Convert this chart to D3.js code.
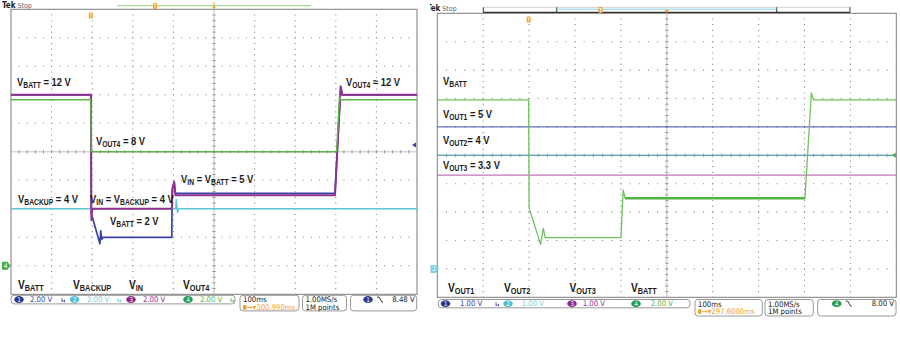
<!DOCTYPE html>
<html><head><meta charset="utf-8">
<script src="https://cdn.jsdelivr.net/npm/d3@7"></script>
<style>
html,body{margin:0;padding:0;background:#fff;}
svg{display:block;}
.lbl{font-family:"Liberation Sans",Arial,sans-serif;font-weight:bold;fill:#1c1c1c;}
.st{font-family:"DejaVu Sans Condensed","DejaVu Sans",sans-serif;font-size:7.7px;}
</style></head><body>
<svg id="c" width="900" height="345"></svg>
<script>
// ---------------- data ----------------
// Time is in ms relative to screen centre (100 ms/div, 10 divisions).
const timeDomain = [-500, 500];

// Left capture, every channel at 2 V/div
const leftVoltsPerDiv = [2, 2, 2, 2];
const leftVbatt = [[-500,12],[-303,12],[-302.5,3.7],[-281,1.55],[-279,2.45],[-276.5,1.85],[-274,2.0],
  [-104,2.0],[-103,5.3],[-98,5.8],[-95,5.08],[298,5.08],[312,12.5],[316,12],[500,12]];
const leftVbackup = [[-500,4],[-94,4],[-93,4.65],[-90,3.75],[-87,4],[500,4]];
const leftVin = [[-500,12],[-303,12],[-302,3.2],[-300,4],[-104,4],[-102,5.5],[-98,5.9],[-95,4.95],
  [298,4.95],[312,12.6],[316,12],[500,12]];
const leftVout4 = [[-500,11.65],[-303.5,11.65],[-302.5,8],[-301,8.2],[-299,8],[302,8],[309,11.9],[311,11.65],[500,11.65]];
const leftTrigLevel = 8.48;

// Right capture: ch1-3 at 1 V/div, ch4 at 2 V/div
const rightVoltsPerDiv = [1, 1, 1, 2];
const rightVout1 = [[-500,5.0],[500,5.0]];
const rightVout2 = [[-500,4.0],[500,4.0]];
const rightVout3 = [[-500,3.3],[500,3.3]];
const rightVbatt = [[-500,11.9],[-301,11.9],[-300,4.3],[-275,1.73],[-269,2.86],[-265,2.2],[-100,2.2],
  [-95,5.55],[-91,4.98],[301,4.98],[315,12.4],[319.5,11.9],[500,11.9]];
const rightRipple = [-91, 301];     // span where the ch4 trace is thickened by ripple
const rightTrigLevel = 8.0;

// Text
const leftNotes = [
  [["V"],["BATT",1],[" = 12 V"]],
  [["V"],["OUT4",1],[" \u2248 12 V"]],
  [["V"],["OUT4",1],[" = 8 V"]],
  [["V"],["IN",1],[" = V"],["BATT",1],[" = 5 V"]],
  [["V"],["BACKUP",1],[" = 4 V"]],
  [["V"],["IN",1],[" = V"],["BACKUP",1],[" = 4 V"]],
  [["V"],["BATT",1],[" = 2 V"]]
];
const leftNames = [[["V"],["BATT",1]],[["V"],["BACKUP",1]],[["V"],["IN",1]],[["V"],["OUT4",1]]];
const rightNotes = [
  [["V"],["BATT",1]],
  [["V"],["OUT1",1],[" = 5 V"]],
  [["V"],["OUT2",1],["= 4 V"]],
  [["V"],["OUT3",1],[" = 3.3 V"]]
];
const rightNames = [[["V"],["OUT1",1]],[["V"],["OUT2",1]],[["V"],["OUT3",1]],[["V"],["BATT",1]]];
const leftStatus = {timebase:"100ms", pos:"300.990ms", rate:"1.00MS/s", points:"1M points", src:"1", level:"8.48 V"};
const rightStatus = {timebase:"100ms", pos:"297.6000ms", rate:"1.00MS/s", points:"1M points", src:"4", level:"8.00 V"};

// ---------------- layout & style ----------------
const chColor = ["#3a44a6", "#5cc6d6", "#93308f", "#5cb548"];
const badgeColor = ["#2b3a8f", "#4fc0cf", "#8a2a88", "#1f9a4a"];
const orange = "#f4a12a";
const PA = {x0:11, x1:417, y0:9.3, y1:294.3};
const PB = {x0:437.3, x1:896.3, y0:13.3, y1:297.3};
const leftNotePos = [[17,86],[346,86],[96,145],[181,183],[18,202.5],[90,202.5],[110,225]];
const leftNamePos = [[18,288.5],[73,288.5],[129,288.5],[183,288.5]];
const rightNotePos = [[443,85],[443,117.5],[443,143.5],[443,168.5]];
const rightNamePos = [[448,291.5],[504,291.5],[569.5,291.5],[631,291.5]];
const narrow = 0.81;   // horizontal squeeze for the condensed annotation face

const svg = d3.select("#c");
svg.append("defs").append("clipPath").attr("id","clipB")
  .append("rect").attr("x",430).attr("y",0).attr("width",470).attr("height",345);

function scales(P, vpd) {
  const x = d3.scaleLinear().domain(timeDomain).range([P.x0, P.x1]);
  // ground reference sits one division above the bottom edge
  const ys = vpd.map(v => d3.scaleLinear().domain([-v, 9 * v]).range([P.y1, P.y0]));
  return {x, ys};
}

function graticule(g, P, x, y) {
  const dx = (P.x1 - P.x0) / 10, dy = (P.y1 - P.y0) / 10;
  const vt = d3.range(-400, 500, 100);
  const hv = y.domain()[1] - y.domain()[0];
  const hTicks = d3.range(1, 10).map(i => y.domain()[0] + i * hv / 10);
  const gg = g.append("g");
  vt.filter(t => t !== 0).forEach(t => {
    gg.append("line").attr("x1", x(t)).attr("x2", x(t)).attr("y1", P.y0).attr("y2", P.y1)
      .attr("stroke", "#8a8a8a").attr("stroke-width", 1.1)
      .attr("stroke-dasharray", `1.1 ${dy / 5 - 1.1}`).attr("stroke-dashoffset", -dy / 5 + 0.55);
  });
  hTicks.forEach((v, i) => {
    if (i === 4) return;
    gg.append("line").attr("x1", P.x0).attr("x2", P.x1).attr("y1", y(v)).attr("y2", y(v))
      .attr("stroke", "#8a8a8a").attr("stroke-width", 1.1)
      .attr("stroke-dasharray", `1.1 ${dx / 5 - 1.1}`).attr("stroke-dashoffset", -dx / 5 + 0.55);
  });
  // centre cross with minor ticks
  const cx = x(0), cy = y(hTicks[4]);
  gg.append("line").attr("x1", cx).attr("x2", cx).attr("y1", P.y0).attr("y2", P.y1)
    .attr("stroke", "#b0b0b0").attr("stroke-width", 0.8);
  gg.append("line").attr("x1", P.x0).attr("x2", P.x1).attr("y1", cy).attr("y2", cy)
    .attr("stroke", "#b0b0b0").attr("stroke-width", 0.8);
  d3.range(1, 50).forEach(i => {
    const xx = P.x0 + i * dx / 5;
    gg.append("line").attr("x1", xx).attr("x2", xx).attr("y1", cy - 1.8).attr("y2", cy + 1.8)
      .attr("stroke", "#8a8a8a").attr("stroke-width", 0.8);
    const yy = P.y0 + i * dy / 5;
    gg.append("line").attr("x1", cx - 1.8).attr("x2", cx + 1.8).attr("y1", yy).attr("y2", yy)
      .attr("stroke", "#8a8a8a").attr("stroke-width", 0.8);
  });
  g.append("rect").attr("x", P.x0).attr("y", P.y0).attr("width", P.x1 - P.x0).attr("height", P.y1 - P.y0)
    .attr("fill", "none").attr("stroke", "#7d7d7d").attr("stroke-width", 1);
}

function trace(g, data, x, y, color, w, op) {
  const line = d3.line().x(d => x(d[0])).y(d => y(d[1]));
  g.append("path").attr("d", line(data)).attr("fill", "none").attr("stroke", color)
    .attr("stroke-width", w).attr("stroke-linejoin", "round").attr("opacity", op || 1);
}

function note(g, x, y, parts, size) {
  const t = g.append("text").attr("class", "lbl").attr("x", 0).attr("y", 0)
    .attr("transform", `translate(${x},${y}) scale(${narrow},1)`).style("font-size", size + "px");
  let cur = 0;
  parts.forEach(([s, sub]) => {
    const off = sub ? size * 0.2 : 0;
    t.append("tspan").text(s).attr("dy", off - cur).style("font-size", (sub ? size * 0.72 : size) + "px");
    cur = off;
  });
}

function badge(g, cx, cy, n, color) {
  g.append("ellipse").attr("cx", cx).attr("cy", cy).attr("rx", 4.8).attr("ry", 3.5).attr("fill", color);
  g.append("text").attr("class", "st").attr("x", cx).attr("y", cy + 2.4).attr("text-anchor", "middle")
    .attr("fill", "#fff").style("font-size", "6.5px").text(n);
}

function bwMark(g, x, y, color) {
  g.append("path").attr("d", `M${x},${y - 4} v4 M${x},${y - 2} l2.5,2 l0,-2.5`)
    .attr("fill", "none").attr("stroke", color).attr("stroke-width", 0.8);
}

function fallEdge(g, x, y) {
  g.append("path").attr("d", `M${x},${y - 5} h2 l3,5 h1`).attr("fill", "none")
    .attr("stroke", "#222").attr("stroke-width", 0.9);
}

function box(g, x0, x1, y0, y1) {
  g.append("rect").attr("x", x0).attr("y", y0).attr("width", x1 - x0).attr("height", y1 - y0)
    .attr("rx", 3).attr("fill", "#fff").attr("stroke", "#8c8c8c").attr("stroke-width", 0.9);
}

function tMarker(g, x, y) {
  g.append("rect").attr("x", x - 2).attr("y", y - 3).attr("width", 4).attr("height", 6)
    .attr("rx", 1).attr("fill", orange);
  g.append("path").attr("d", `M${x - 1.2},${y - 1.5} h2.4 M${x},${y - 1.5} v3.5`)
    .attr("stroke", "#fff").attr("stroke-width", 0.7);
}

function groundMarker(g, x, y, n, color) {
  g.append("path").attr("d", `M${x},${y - 4} h5.5 l3,4 l-3,4 h-5.5 z`).attr("fill", color);
  g.append("text").attr("class", "st").attr("x", x + 3.6).attr("y", y + 2.4).attr("text-anchor", "middle")
    .attr("fill", "#fff").style("font-size", "6.5px").text(n);
}

function levelArrow(g, x, y, color) {
  g.append("path").attr("d", `M${x},${y} l4,-2.5 v5 z`).attr("fill", color);
}

function tekStop(g, x, y) {
  const t = g.append("text").attr("x", x).attr("y", y).attr("class", "st");
  t.append("tspan").text("Tek").style("font-weight", "bold").style("font-size", "8px").attr("fill", "#222");
  t.append("tspan").text(" Stop").style("font-size", "7px").attr("fill", "#666");
}

function statusBar(g, L, vpd, st) {
  box(g, L.b1[0], L.b1[1], L.y0, L.y0 + L.h1);
  const yb = L.y0 + L.h1 / 2;
  vpd.forEach((v, i) => {
    badge(g, L.badges[i], yb, String(i + 1), badgeColor[i]);
    g.append("text").attr("class", "st").attr("x", L.vals[i]).attr("y", yb + 2.7)
      .attr("fill", i === 1 ? "#7fd0dc" : chColor[i]).text(d3.format(".2f")(v) + " V");
  });
  L.bw.forEach(([x, i]) => bwMark(g, x, yb + 2.5, chColor[i]));
  box(g, L.b2[0], L.b2[1], L.y0, L.y0 + L.h2);
  g.append("text").attr("class", "st").attr("x", L.b2[0] + 3).attr("y", L.y0 + 7).attr("fill", "#222").text(st.timebase);
  g.append("rect").attr("x", L.b2[0] + 3).attr("y", L.y0 + 9.8).attr("width", 3.5).attr("height", 4.5).attr("fill", orange);
  g.append("text").attr("class", "st").attr("x", L.b2[0] + 7).attr("y", L.y0 + 14.6).attr("fill", orange)
    .text("\u2192\u25BE" + st.pos);
  box(g, L.b3[0], L.b3[1], L.y0, L.y0 + L.h2);
  g.append("text").attr("class", "st").attr("x", L.b3[0] + 3).attr("y", L.y0 + 7).attr("fill", "#222").text(st.rate);
  g.append("text").attr("class", "st").attr("x", L.b3[0] + 3).attr("y", L.y0 + 14.6).attr("fill", "#222").text(st.points);
  box(g, L.b4[0], L.b4[1], L.y0, L.y0 + L.h2);
  const si = +st.src - 1;
  badge(g, L.b4[0] + L.srcDx, yb, st.src, badgeColor[si]);
  fallEdge(g, L.b4[0] + L.srcDx + 9, yb + 2.5);
  g.append("text").attr("class", "st").attr("x", L.b4[1] - 2).attr("y", yb + 2.7).attr("text-anchor", "end")
    .attr("fill", "#222").text(st.level);
}

// ---------------- left capture ----------------
{
  const g = svg.append("g");
  const {x, ys} = scales(PA, leftVoltsPerDiv);
  graticule(g, PA, x, ys[0]);
  // top bar
  g.append("line").attr("x1", 117).attr("x2", 311).attr("y1", 5.7).attr("y2", 5.7).attr("stroke", "#8fcf7a").attr("stroke-width", 1);
  tMarker(g, 155, 6);
  g.append("path").attr("d", `M${x(0) - 2},6.5 h4 l-2,3 z`).attr("fill", orange);
  g.append("line").attr("x1", x(0)).attr("x2", x(0)).attr("y1", 2).attr("y2", 6.5).attr("stroke", orange).attr("stroke-width", 1);
  tekStop(g, 2, 8);
  tMarker(g, x(leftVout4[1][0]), 15.5);

  trace(g, leftVbatt, x, ys[0], chColor[0], 1.7);
  trace(g, leftVbackup, x, ys[1], chColor[1], 1.5);
  trace(g, leftVin, x, ys[2], chColor[2], 1.9);
  trace(g, leftVout4, x, ys[3], chColor[3], 1.4);

  groundMarker(g, 2, ys[3](0), "4", "#3fae50");
  levelArrow(g, PA.x1 - 5, ys[0](leftTrigLevel), chColor[0]);

  leftNotes.forEach((p, i) => note(g, leftNotePos[i][0], leftNotePos[i][1], p, 11.6));
  leftNames.forEach((p, i) => note(g, leftNamePos[i][0], leftNamePos[i][1], p, 12.6));

  statusBar(g, {y0:295.3, h1:8.6, h2:15.6, b1:[11,235], b2:[240,299], b3:[302.5,346.5], b4:[350.5,416.7],
    badges:[19,74.5,131,188], vals:[30,87,143,200], bw:[[62,0],[118,1],[231,3]], srcDx:17.5},
    leftVoltsPerDiv, leftStatus);
}

// ---------------- right capture ----------------
{
  const g = svg.append("g").attr("clip-path", "url(#clipB)");
  const {x, ys} = scales(PB, rightVoltsPerDiv);
  graticule(g, PB, x, ys[0]);
  // record bar
  g.append("line").attr("x1", 483.3).attr("x2", 850).attr("y1", 7.3).attr("y2", 7.3).attr("stroke", "#c4c4c4").attr("stroke-width", 0.8);
  g.append("line").attr("x1", 483.3).attr("x2", 850).attr("y1", 12.4).attr("y2", 12.4).attr("stroke", "#333").attr("stroke-width", 1.2);
  [483.3, 556.7, 776.7, 850].forEach(xx =>
    g.append("line").attr("x1", xx).attr("x2", xx).attr("y1", 7.3).attr("y2", 12.4).attr("stroke", "#333").attr("stroke-width", 1));
  g.append("line").attr("x1", 556.7).attr("x2", 776.7).attr("y1", 9.2).attr("y2", 9.2).attr("stroke", "#7fd0e0").attr("stroke-width", 1);
  tMarker(g, 600.5, 10);
  g.append("path").attr("d", `M${x(0) - 2.2},10 h4.4 l-2.2,3 z`).attr("fill", orange);
  tekStop(g, 426.8, 11);
  tMarker(g, x(rightVbatt[1][0]), 19.5);

  trace(g, rightVout1, x, ys[0], "#4a56b0", 1.2, 0.85);
  trace(g, rightVout2, x, ys[1], "#4e9fb4", 1.2, 0.9);
  trace(g, rightVout3, x, ys[2], "#b65aae", 1.2, 0.85);
  trace(g, rightVbatt, x, ys[3], "#6cc35a", 1.3);
  trace(g, rightVbatt.filter(d => d[0] >= rightRipple[0] && d[0] <= rightRipple[1]), x, ys[3], "#55b445", 2.6);

  groundMarker(g, 430.5, ys[1](0), "2", "#7fd0dc");
  levelArrow(g, PB.x1 - 4.5, ys[3](rightTrigLevel), "#3fae50");

  rightNotes.forEach((p, i) => note(g, rightNotePos[i][0], rightNotePos[i][1], p, 11.6));
  rightNames.forEach((p, i) => note(g, rightNamePos[i][0], rightNamePos[i][1], p, 12.6));

  statusBar(g, {y0:299.5, h1:8.3, h2:16.5, b1:[438.3,690], b2:[695,762.3], b3:[765,813.3], b4:[817.7,896],
    badges:[445.5,508,572,636], vals:[460,521.7,582.7,650.7], bw:[[496,0]], srcDx:19},
    rightVoltsPerDiv, rightStatus);
}
</script>
</body></html>
